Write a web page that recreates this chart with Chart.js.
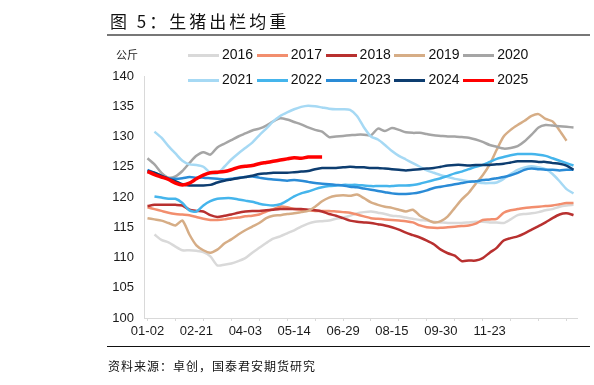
<!DOCTYPE html>
<html>
<head>
<meta charset="utf-8">
<script src="https://cdn.jsdelivr.net/npm/chart.js@4/dist/chart.umd.min.js"></script>
<style>
  body { margin: 0; background: #fff; }
  #wrap { position: relative; width: 594px; height: 385px; overflow: hidden; background: #fff; }
  #chart { position: absolute; left: 0; top: 0; }
  .title { position: absolute; left: 110px; top: 8px; font: 17px "Noto Sans CJK SC", sans-serif; letter-spacing: 3px; color: #111; }
  .rule { position: absolute; left: 107px; width: 483px; }
  .unit { position: absolute; left: 116px; top: 46px; font: 11px "Noto Sans CJK SC", sans-serif; color: #222; }
  .src { position: absolute; left: 108px; top: 357px; font: 12px "Noto Sans CJK SC", sans-serif; letter-spacing: 1px; color: #111; }
  .leg { position: absolute; height: 16px; font: 14px "Liberation Sans", Arial, sans-serif; color: #111; white-space: nowrap; }
  .leg i { display: inline-block; width: 31px; height: 3px; vertical-align: middle; margin-right: 3px; }
</style>
</head>
<body>
<div id="wrap">
  <canvas id="chart" width="594" height="385"></canvas>
  <div class="title">图 5：生猪出栏均重</div>
  <div class="rule" style="top:34px;height:2px;background:#777;"></div>
  <div class="unit">公斤</div>
  <div id="legend"></div>
  <div class="rule" style="top:346px;height:1px;background:#111;"></div>
  <div class="src">资料来源：卓创，国泰君安期货研究</div>
</div>
<script>
const tickLabels = ["01-02", "02-21", "04-03", "05-14", "06-29", "08-15", "09-30", "11-23"];
const pointCount = 62;

const years = ["2016", "2017", "2018", "2019", "2020", "2021", "2022", "2023", "2024", "2025"];
const colors = ["#d9d9d9", "#f28e6e", "#b8302f", "#d6ad86", "#a5a5a5", "#a6d9f4", "#45b5ec", "#2a8bd6", "#0d3d70", "#ff0000"];

const y2016 = [null, 113.8, 112.9, 112.5, 111.8, 111.2, 111.2, 111.1, 110.9, 110.2, 108.7, 108.8, 109.0, 109.4, 109.9, 110.8, 111.6, 112.4, 113.1, 113.5, 114.0, 114.5, 115.1, 115.6, 115.9, 116.0, 116.1, 116.4, 116.6, 116.9, 117.3, 117.5, 117.6, 117.4, 117.2, 116.9, 116.8, 116.6, 116.4, 116.2, 116.1, 115.9, 115.8, 115.7, 115.7, 115.7, 115.8, 115.9, 115.9, 115.8, 115.8, 115.7, 116.3, 117.0, 117.2, 117.3, 117.5, 117.8, 118.0, 118.4, 118.6, 118.7];
const y2017 = [118.3, 118.0, 117.7, 117.4, 117.2, 117.1, 117.0, 116.7, 116.4, 116.2, 116.2, 116.3, 116.5, 116.6, 116.8, 116.9, 117.1, 117.6, 118.0, 118.4, 118.3, 118.0, 117.9, 117.8, 117.7, 117.7, 117.7, 117.6, 117.5, 117.4, 117.1, 116.8, 116.5, 116.4, 116.3, 116.2, 116.1, 116.0, 115.8, 115.3, 115.0, 114.9, 114.9, 115.0, 115.1, 115.2, 115.3, 115.6, 116.2, 116.3, 116.4, 117.4, 117.8, 118.0, 118.2, 118.3, 118.4, 118.5, 118.6, 118.8, 119.0, 119.0];
const y2018 = [118.5, 118.7, 118.7, 118.7, 118.7, 118.6, 117.9, 117.7, 117.6, 117.0, 116.7, 116.9, 117.1, 117.4, 117.6, 117.7, 117.7, 117.8, 117.9, 118.0, 118.0, 118.0, 118.0, 117.9, 117.8, 117.6, 117.2, 116.9, 116.5, 116.1, 115.9, 115.8, 115.7, 115.5, 115.3, 115.0, 114.6, 114.1, 113.7, 113.3, 112.8, 112.2, 111.3, 110.7, 110.3, 109.4, 109.5, 109.5, 109.9, 110.8, 111.6, 112.8, 113.2, 113.5, 114.0, 114.6, 115.2, 115.8, 116.5, 117.1, 117.3, 117.0];
const y2019 = [116.5, 116.3, 116.1, 115.7, 115.3, 116.1, 113.8, 112.0, 111.2, 110.8, 111.3, 112.3, 113.0, 113.8, 114.5, 115.1, 115.7, 116.5, 116.9, 117.0, 117.2, 117.3, 117.5, 117.7, 118.4, 119.3, 119.9, 120.2, 120.3, 120.2, 120.4, 119.8, 119.1, 118.7, 118.4, 118.2, 117.9, 117.6, 117.9, 116.9, 116.3, 115.8, 116.0, 116.8, 118.2, 119.6, 120.7, 122.2, 123.6, 125.4, 127.8, 130.0, 131.1, 131.9, 132.6, 133.4, 133.7, 132.9, 132.5, 131.0, 129.3, null];
const y2020 = [126.4, 125.4, 124.0, 123.2, 123.4, 124.3, 125.6, 126.8, 127.4, 127.0, 128.2, 128.8, 129.4, 130.0, 130.5, 131.0, 131.3, 131.8, 132.5, 133.0, 132.8, 132.4, 132.0, 131.5, 131.1, 130.8, 129.9, 130.0, 130.1, 130.2, 130.3, 130.3, 130.2, 131.3, 130.9, 131.4, 131.1, 130.7, 130.6, 130.6, 130.4, 130.2, 130.1, 130.0, 130.0, 129.9, 129.8, 129.5, 129.1, 128.6, 128.3, 128.0, 128.1, 128.4, 129.2, 130.3, 131.5, 131.9, 131.8, 131.7, 131.6, 131.5];
const y2021 = [null, 130.8, 129.8, 128.4, 127.2, 126.0, 125.4, 125.3, 125.0, 124.0, 123.9, 125.0, 126.2, 127.2, 128.1, 129.0, 130.2, 131.3, 132.5, 133.4, 134.0, 134.5, 134.9, 135.1, 135.0, 134.8, 134.6, 134.5, 134.5, 134.4, 133.4, 131.5, 130.0, 129.5, 128.6, 127.6, 126.8, 126.2, 125.6, 125.0, 124.4, 124.0, 123.6, 123.3, 123.0, 122.8, 122.6, 122.5, 122.3, 122.3, 122.4, 123.0, 123.8, 124.5, 124.9, 125.1, 124.9, 124.6, 123.8, 122.6, 121.3, 120.6];
const y2022 = [null, 120.1, 119.9, 119.7, 119.7, 119.0, 117.8, 117.6, 118.6, 119.3, 119.7, 119.8, 119.8, 119.6, 119.4, 119.2, 118.9, 118.7, 118.6, 118.8, 119.4, 120.1, 120.6, 120.9, 121.3, 121.6, 121.8, 121.9, 122.0, 122.0, 122.0, 121.9, 121.8, 121.8, 121.8, 121.8, 121.9, 121.9, 122.0, 122.2, 122.5, 122.8, 123.1, 123.5, 123.9, 124.2, 124.6, 125.0, 125.3, 125.8, 126.3, 126.6, 126.9, 127.1, 127.1, 127.1, 127.0, 126.8, 126.4, 126.0, 125.6, 125.2];
const y2023 = [124.5, 124.0, 123.5, 123.1, 123.0, 123.1, 123.3, 123.2, 123.2, 123.1, 123.0, 122.9, 123.0, 123.2, 123.3, 123.4, 123.2, 123.0, 122.9, 122.8, 122.7, 122.8, 122.7, 122.5, 122.3, 122.2, 122.1, 122.0, 121.9, 121.7, 121.6, 121.4, 121.2, 121.0, 120.8, 120.6, 120.5, 120.5, 120.6, 120.8, 121.1, 121.5, 121.7, 121.9, 122.1, 122.3, 122.5, 122.6, 122.8, 122.9, 123.1, 123.3, 123.6, 124.0, 124.5, 124.7, 124.6, 124.5, 124.5, 124.4, 124.5, 124.5];
const y2024 = [124.3, 124.0, 123.5, 123.0, 122.6, 122.1, 121.9, 121.9, 121.9, 122.0, 122.4, 122.7, 122.9, 123.1, 123.3, 123.5, 123.8, 123.9, 124.0, 124.0, 124.0, 124.1, 124.2, 124.3, 124.6, 124.8, 124.8, 124.8, 124.9, 125.0, 124.9, 124.9, 124.8, 124.8, 124.7, 124.6, 124.5, 124.4, 124.5, 124.6, 124.7, 124.8, 125.0, 125.2, 125.3, 125.3, 125.2, 125.3, 125.3, 125.3, 125.4, 125.5, 125.7, 125.9, 125.9, 125.9, 125.8, 125.8, 125.6, 125.5, 125.2, 124.5];
const y2025 = [124.2, 123.7, 123.3, 122.9, 122.3, 122.0, 122.3, 123.0, 123.6, 124.0, 124.1, 124.2, 124.5, 124.9, 125.1, 125.2, 125.5, 125.7, 125.9, 126.1, 126.3, 126.5, 126.4, 126.6, 126.6, 126.6];

const yTicks = [100, 105, 110, 115, 120, 125, 130, 135, 140];

const seriesList = [y2016, y2017, y2018, y2019, y2020, y2021, y2022, y2023, y2024, y2025];

// one category per point, a label every 7th one
const categories = [];
for (let i = 0; i < pointCount; i++) {
  const lab = i % 7 === 0 ? tickLabels[i / 7] : undefined;
  categories.push(lab !== undefined ? lab : "");
}

const datasets = years.map((year, i) => ({
  label: year,
  data: seriesList[i],
  borderColor: colors[i],
  backgroundColor: colors[i],
  borderWidth: year === "2025" ? 3.5 : 2.5,
  pointRadius: 0,
  tension: 0.25,
  fill: false,
  order: years.length - i
}));

// legend, two rows of five, over the top of the plot
const legendEl = document.getElementById("legend");
years.forEach((year, i) => {
  const item = document.createElement("div");
  item.className = "leg";
  item.style.left = (188 + (i % 5) * 68.8) + "px";
  item.style.top = (i < 5 ? 46 : 71) + "px";
  item.innerHTML = `<i style="background:${colors[i]}"></i>${year}`;
  legendEl.appendChild(item);
});

const axisColor = "#d9d9d9";
const tickFont = { family: "'Liberation Sans', Arial, sans-serif", size: 13 };

new Chart(document.getElementById("chart").getContext("2d"), {
  type: "line",
  data: { labels: categories, datasets: datasets },
  options: {
    responsive: false,
    animation: false,
    devicePixelRatio: 1,
    layout: { padding: { left: 0, right: 17, top: 76, bottom: 43 } },
    plugins: { legend: { display: false }, tooltip: { enabled: false } },
    scales: {
      x: {
        type: "category",
        offset: true,
        afterFit: (scale) => { scale.height = 24; },
        border: { color: axisColor, width: 1 },
        grid: {
          drawOnChartArea: false,
          drawTicks: true,
          tickLength: 3,
          tickColor: (ctx) => (ctx.index % 4 === 0 ? axisColor : "rgba(0,0,0,0)")
        },
        ticks: {
          autoSkip: false,
          maxRotation: 0,
          padding: 3,
          color: "#1a1a1a",
          font: tickFont,
          callback: (val, idx) => categories[idx]
        }
      },
      y: {
        min: 100,
        max: 140,
        afterFit: (scale) => { scale.width = 144; },
        afterBuildTicks: (scale) => { scale.ticks = yTicks.map((v) => ({ value: v })); },
        border: { color: axisColor, width: 1 },
        grid: { display: false, drawTicks: false },
        ticks: { padding: 10, color: "#1a1a1a", font: tickFont }
      }
    }
  }
});
</script>
</body>
</html>
